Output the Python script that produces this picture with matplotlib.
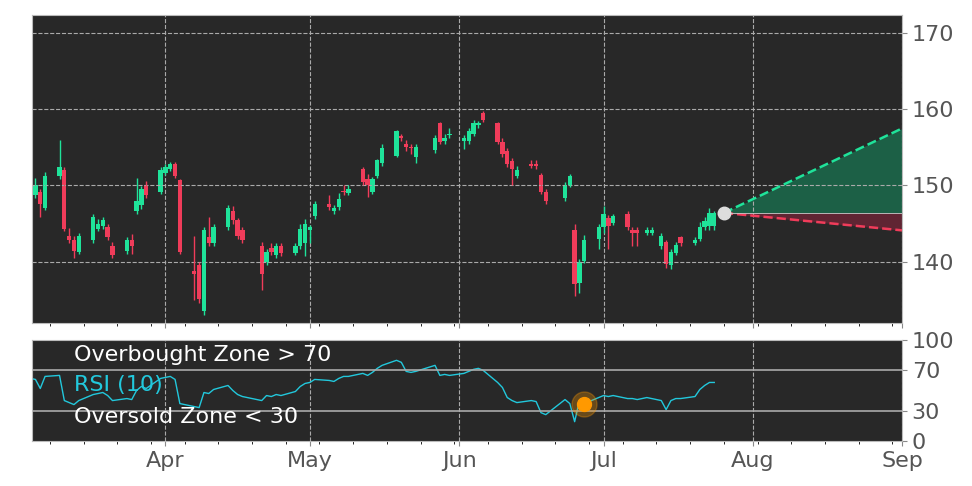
import matplotlib
matplotlib.use("Agg")
import matplotlib.pyplot as plt
import matplotlib.dates as mdates
import pandas as pd
import numpy as np

base = pd.Timestamp("2021-04-01")
day_offsets = [-28,-27,-26,-25,-22,-21,-20,-19,-18,-15,-14,-13,-12,-11,-8,-7,-6,-5,-4,-1,
               0,1,2,3,6,7,8,9,10,13,14,15,16,20,21,22,23,24,27,28,
               29,30,31,34,35,36,37,38,41,42,43,44,45,48,49,50,51,52,56,57,
               58,59,62,63,64,65,66,69,70,71,72,73,76,77,78,79,83,84,85,86,
               87,90,91,92,93,96,97,98,100,101,103,104,105,106,107,110,111,112,113,114]
opens = [152.2,148.7,149.1,147.1,151.2,152.0,143.4,142.9,141.2,142.8,144.3,144.7,144.6,142.1,141.4,142.8,146.6,147.4,150.1,149.1,
         151.7,152.2,152.8,150.7,138.8,139.5,133.5,143.2,142.4,144.5,146.7,145.4,144.2,142.0,139.9,141.8,140.9,142.0,141.1,142.0,
         142.5,144.2,146.0,147.6,146.7,147.2,149.3,149.0,152.2,150.8,149.2,151.3,152.9,153.9,156.5,155.5,155.0,153.8,154.6,158.2,
         155.8,156.6,155.8,155.8,156.8,157.9,159.5,158.2,155.7,154.5,153.2,151.3,152.8,152.7,151.4,149.2,148.4,150.1,144.2,137.2,
         140.1,143.0,144.5,145.7,145.1,146.2,144.2,144.2,143.8,143.8,142.0,142.6,139.6,141.1,143.2,142.4,143.0,144.5,144.7,144.7]
closes = [149.7,150.0,147.6,151.3,152.4,144.3,142.8,141.4,143.4,145.9,144.9,145.4,143.2,140.9,142.8,142.0,148.0,149.6,148.7,152.1,
          152.4,152.8,151.3,141.2,138.4,135.1,144.1,142.4,144.5,147.0,145.4,143.4,142.8,138.4,141.3,141.2,142.1,141.1,142.1,144.3,
          145.0,144.5,147.6,147.2,147.0,148.2,149.1,149.6,150.5,150.0,150.9,153.3,154.9,157.1,156.3,155.0,154.9,155.0,156.2,155.7,
          156.3,156.8,156.3,157.1,158.2,158.2,158.6,155.7,154.1,152.8,152.2,152.1,152.6,152.6,149.1,147.9,150.1,151.2,137.0,140.0,
          142.9,144.5,146.3,144.7,146.0,144.5,143.7,143.7,144.1,144.1,143.3,139.7,141.2,142.2,142.4,142.8,144.6,145.3,146.4,146.4]
highs = [152.6,151.0,149.6,151.8,156.0,152.4,144.4,143.4,143.8,146.3,145.6,145.8,145.0,142.6,143.2,143.6,151.0,149.9,150.6,152.4,
         152.8,153.1,153.1,150.9,143.4,139.9,144.6,145.8,145.0,147.4,147.3,145.7,144.5,142.6,141.7,142.4,142.4,142.4,142.4,144.9,
         145.6,144.8,148.0,148.7,147.4,149.0,150.1,150.0,152.4,151.5,151.1,153.5,155.5,157.3,156.8,156.0,155.5,155.4,156.7,158.4,
         156.8,157.5,156.6,157.5,158.6,158.5,159.8,158.4,156.2,154.9,153.6,152.5,153.4,153.4,151.6,149.5,150.5,151.5,145.0,140.4,
         143.5,144.9,147.3,146.1,146.3,146.6,144.6,144.6,144.5,144.5,143.7,142.9,141.6,142.6,143.4,143.2,145.2,145.9,147.0,146.7]
lows = [149.4,148.3,145.8,146.8,150.9,144.0,142.5,140.5,141.0,142.4,144.0,144.3,142.9,140.5,141.0,141.0,146.2,146.9,148.4,148.9,
        151.4,151.9,151.0,141.0,135.0,134.5,133.0,142.0,142.0,144.2,145.0,143.0,142.4,136.2,139.5,140.8,140.5,140.7,140.8,141.6,
        140.7,142.5,145.6,146.8,146.3,146.8,148.7,148.7,150.0,148.5,148.9,151.0,152.6,153.7,155.9,154.5,154.2,153.0,154.3,155.4,
        155.4,156.3,154.8,155.5,156.5,157.6,158.3,155.4,153.7,152.4,150.0,151.0,152.3,152.2,148.9,147.6,148.0,149.8,135.5,135.9,
        139.8,141.7,143.7,141.7,144.8,144.2,142.0,142.0,143.5,143.5,141.6,139.2,139.0,140.8,142.0,142.2,142.7,144.2,144.2,144.2]
rsi = [62,61,52,64,65,40,38,36,40,46,47,48,45,40,42,41,50,54,52,62,
       63,64,61,37,34,33,48,47,51,55,50,46,44,40,45,44,46,45,49,54,
       57,58,61,60,59,62,64,64,67,65,68,72,75,80,78,69,68,69,75,65,
       66,65,67,69,71,72,70,58,53,43,40,38,40,39,28,26,41,37,19,40,
       37,43,45,44,45,42,42,41,43,42,40,31,40,42,42,44,51,55,58,58]

forecast_days = [116, 153]
forecast_upper = [146.4, 157.5]
forecast_lower = [146.4, 144.1]
forecast_base = 146.4
rsi_marker_idx = 80

xlim = (base + pd.Timedelta(days=-27.7), pd.Timestamp("2021-09-01"))
dates = [base + pd.Timedelta(days=d) for d in day_offsets]
x = mdates.date2num(dates)

GREEN = "#1fe39a"
RED = "#f03c5a"
BG = "#282828"
TXT = "#555555"

fig = plt.figure(figsize=(9.72, 4.86), dpi=100)
ax = fig.add_axes([0.033, 0.335, 0.895, 0.634])
ax2 = fig.add_axes([0.033, 0.093, 0.895, 0.207])

for a in (ax, ax2):
    a.set_facecolor(BG)
    for s in a.spines.values():
        s.set_color("#bbbbbb")
    a.yaxis.tick_right()
    a.tick_params(axis="both", colors="#888888", labelcolor=TXT, labelsize=16)
    a.xaxis.set_major_locator(mdates.MonthLocator())
    a.xaxis.set_minor_locator(mdates.WeekdayLocator(byweekday=mdates.MO))
    a.set_xlim(mdates.date2num(xlim[0]), mdates.date2num(xlim[1]))

w = 0.9
for xi, o, c, h, l in zip(x, opens, closes, highs, lows):
    col = GREEN if c >= o else RED
    ax.vlines(xi, l, h, color=col, lw=1)
    ax.bar(xi, abs(c - o) if abs(c - o) > 0.2 else 0.2, bottom=min(o, c), width=w, color=col)

fx = mdates.date2num([base + pd.Timedelta(days=d) for d in forecast_days])
ax.fill_between(fx, [forecast_base]*2, forecast_upper, color="#1a6b4c", alpha=0.85, lw=0)
ax.fill_between(fx, forecast_lower, [forecast_base]*2, color="#6b2535", alpha=0.85, lw=0)
ax.plot(fx, forecast_upper, "--", color=GREEN, lw=1.8)
ax.plot(fx, forecast_lower, "--", color=RED, lw=1.8)
ax.plot([fx[0], fx[1]], [forecast_base]*2, color="#cccccc", lw=0.6)
ax.plot(fx[0], forecast_base, "o", color="#dddddd", ms=9, zorder=5)

ax.set_ylim(131.9, 172.4)
ax.set_yticks([140, 150, 160, 170])
ax.tick_params(axis="x", labelbottom=False)
ax.grid(True, color="#aaaaaa", ls="--", lw=0.8)

ax2.plot(x, rsi, color="#22c8dc", lw=1)
ax2.axhline(70, color="#aaaaaa", lw=1.2)
ax2.axhline(30, color="#aaaaaa", lw=1.2)
ax2.plot(x[rsi_marker_idx], rsi[rsi_marker_idx], "o", color="#ff9900", ms=18, alpha=0.3, zorder=4)
ax2.plot(x[rsi_marker_idx], rsi[rsi_marker_idx], "o", color="#ff9900", ms=10, zorder=5)
ax2.set_ylim(0, 100)
ax2.set_yticks([0, 30, 70, 100])
ax2.grid(True, axis="x", color="#aaaaaa", ls="--", lw=0.8)
ax2.xaxis.set_major_formatter(mdates.DateFormatter("%b"))
tx = mdates.date2num(base + pd.Timedelta(days=-19))
ax2.text(tx, 85, "Overbought Zone > 70", color="white", fontsize=16, va="center")
ax2.text(tx, 55, "RSI (10)", color="#22c8dc", fontsize=16, va="center")
ax2.text(tx, 24, "Oversold Zone < 30", color="white", fontsize=16, va="center")

fig.savefig("out.png", dpi=100, facecolor="white")
